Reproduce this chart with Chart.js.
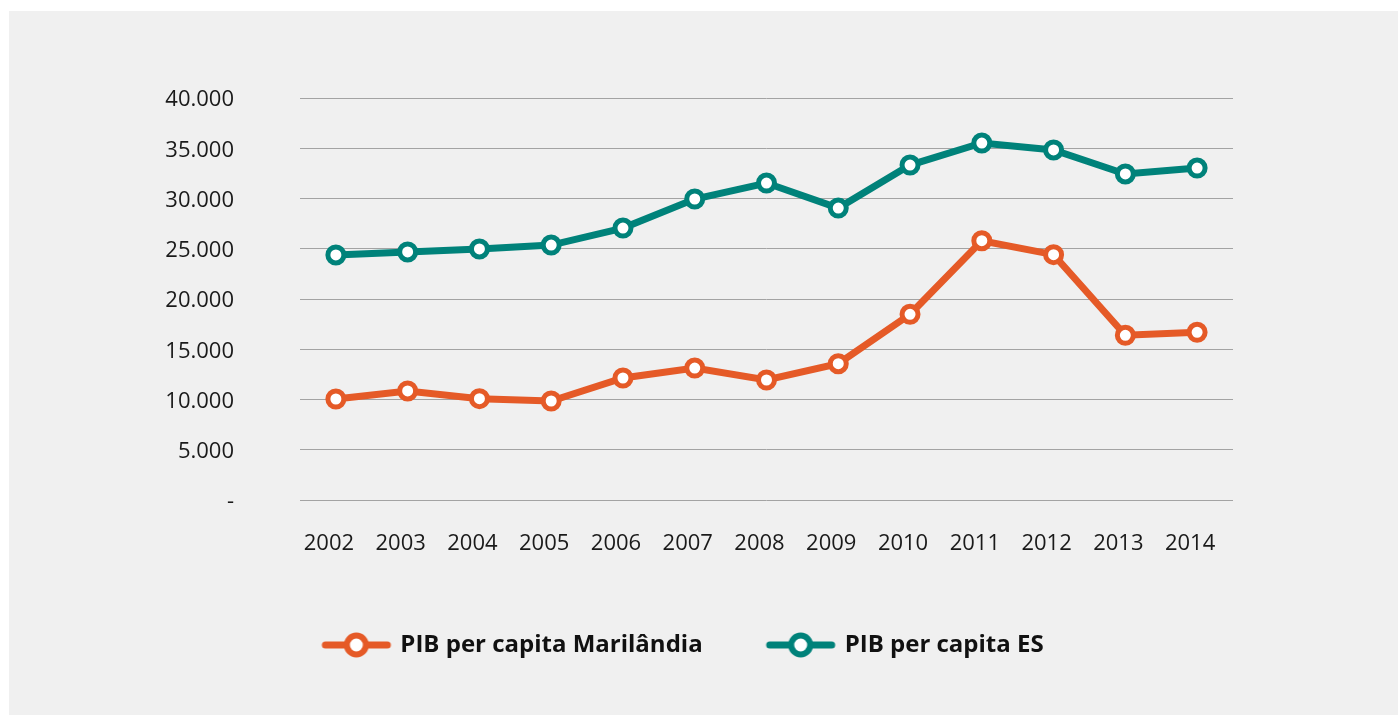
<!DOCTYPE html>
<html>
<head>
<meta charset="utf-8">
<script src="https://cdn.jsdelivr.net/npm/chart.js@4.4.1/dist/chart.umd.min.js"></script>
<style>
  body { margin: 0; background: #ffffff; }
  #panel { position: absolute; left: 9px; top: 11px; width: 1389px; height: 704px; background: #f0f0f0; }
</style>
</head>
<body>
<div id="panel"><canvas id="pib-chart" width="1389" height="704"></canvas></div>
<script>
// Anos e valores
const years = ['2002', '2003', '2004', '2005', '2006', '2007', '2008', '2009', '2010', '2011', '2012', '2013', '2014'];
const pibMarilandia = [10050, 10850, 10080, 9850, 12140, 13130, 11940, 13560, 18480, 25800, 24410, 16390, 16690];
const pibES = [24380, 24680, 24980, 25370, 27060, 29950, 31540, 29050, 33330, 35520, 34830, 32440, 33030];

const orange = '#e55a27';
const teal = '#00827a';

// Legend icon: line with a hollow circle in the middle
function legendIcon(color) {
    const c = document.createElement('canvas');
    c.width = 72;
    c.height = 28;
    const ctx = c.getContext('2d');
    ctx.strokeStyle = color;
    ctx.lineWidth = 7;
    ctx.lineCap = 'round';
    ctx.beginPath();
    ctx.moveTo(5, 14);
    ctx.lineTo(67, 14);
    ctx.stroke();
    ctx.beginPath();
    ctx.arc(36, 14, 9.5, 0, Math.PI * 2);
    ctx.fillStyle = '#ffffff';
    ctx.fill();
    ctx.lineWidth = 6;
    ctx.stroke();
    return c;
}

function thousands(v) {
    if (v === 0) return '-';
    return String(v).replace(/\B(?=(\d{3})+(?!\d))/g, '.');
}

const ctx = document.getElementById('pib-chart').getContext('2d');
new Chart(ctx, {
    type: 'line',
    data: {
        labels: years,
        datasets: [
            {
                label: 'PIB per capita Marilândia',
                data: pibMarilandia,
                borderColor: orange,
                backgroundColor: '#ffffff',
                borderWidth: 7,
                pointRadius: 8,
                pointBorderWidth: 5,
                pointBackgroundColor: '#ffffff',
                pointBorderColor: orange,
                tension: 0,
                fill: false,
            },
            {
                label: 'PIB per capita ES',
                data: pibES,
                borderColor: teal,
                backgroundColor: '#ffffff',
                borderWidth: 7,
                pointRadius: 8,
                pointBorderWidth: 5,
                pointBackgroundColor: '#ffffff',
                pointBorderColor: teal,
                tension: 0,
                fill: false,
            },
        ],
    },
    options: {
        responsive: false,
        animation: false,
        layout: { padding: { top: 87, left: 126, right: 165, bottom: 48 } },
        plugins: {
            tooltip: { enabled: false },
            legend: {
                position: 'bottom',
                labels: {
                    usePointStyle: true,
                    pointStyleWidth: 64,
                    boxHeight: 24,
                    padding: 66,
                    color: '#111111',
                    font: { family: 'Open Sans', size: 24, weight: 'bold' },
                    generateLabels: (chart) => {
                        const items = Chart.defaults.plugins.legend.labels.generateLabels(chart);
                        const colors = [orange, teal];
                        items.forEach((item, i) => { item.pointStyle = legendIcon(colors[i]); });
                        return items;
                    },
                },
            },
        },
        scales: {
            x: {
                offset: true,
                grid: { display: false, drawTicks: false },
                border: { display: false },
                ticks: { padding: 31, labelOffset: -7, color: '#1a1a1a', font: { family: 'Open Sans', size: 22 } },
                afterFit: (scale) => { scale.height = 67; },
            },
            y: {
                min: 0,
                max: 40000,
                grid: { color: '#a3a3a3', lineWidth: 1, drawTicks: false },
                border: { display: false },
                ticks: {
                    stepSize: 5000,
                    padding: 66,
                    labelOffset: 2,
                    color: '#1a1a1a',
                    font: { family: 'Open Sans', size: 22 },
                    callback: (v) => thousands(v),
                },
                afterFit: (scale) => { scale.width = 165; },
            },
        },
    },
});
</script>
</body>
</html>
